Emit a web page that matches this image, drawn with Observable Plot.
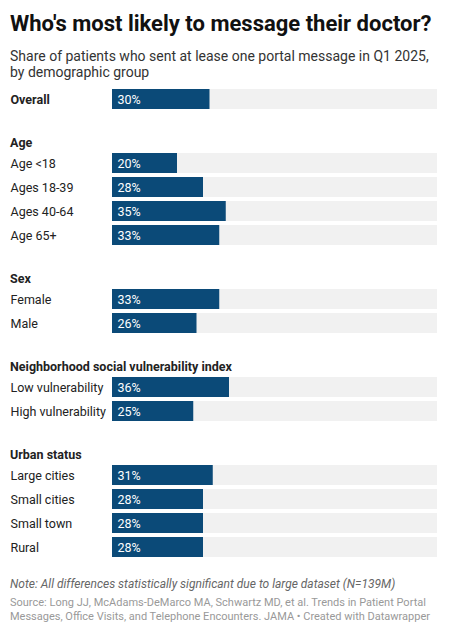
<!DOCTYPE html>
<html>
<head>
<meta charset="utf-8">
<script src="https://cdn.jsdelivr.net/npm/d3@7"></script>
<script src="https://cdn.jsdelivr.net/npm/@observablehq/plot@0.6"></script>
<style>
  html, body { margin: 0; padding: 0; background: #fff; }
  body { width: 450px; font-family: Roboto, "Noto Sans", sans-serif; }
  .title { margin: 11px 10px 0 10px; font-size: 22px; line-height: 25px; font-weight: 700; color: #111; }
  .subtitle { margin: 12px 10px 0 10px; font-size: 14px; line-height: 16px; color: #333; }
  .group-head { margin: 23px 10px 0 10px; font-size: 12.5px; line-height: 17px; height: 17px; font-weight: 700; color: #222; }
  #chart { margin-top: 7px; }
  #chart svg { display: block; }
  .note { margin: 18px 10px 0 10px; font-size: 12px; line-height: 14px; font-style: italic; color: #666; }
  .source { margin: 5px 10px 0 10px; font-size: 11px; line-height: 13.5px; color: #999; }
</style>
</head>
<body>
<div class="title">Who's most likely to message their doctor?</div>
<div class="subtitle">Share of patients who sent at lease one portal message in Q1 2025, by demographic group</div>
<div id="chart"></div>
<div class="note">Note: All differences statistically significant due to large dataset (N=139M)</div>
<div class="source">Source: Long JJ, McAdams-DeMarco MA, Schwartz MD, et al. Trends in Patient Portal Messages, Office Visits, and Telephone Encounters. JAMA • Created with Datawrapper</div>
<script>
const overallLabels = ["Overall"];
const overallValues = [30];

const groupTitles = ["Age", "Sex", "Neighborhood social vulnerability index", "Urban status"];

const ageLabels = ["Age <18", "Ages 18-39", "Ages 40-64", "Age 65+"];
const ageValues = [20, 28, 35, 33];

const sexLabels = ["Female", "Male"];
const sexValues = [33, 26];

const sviLabels = ["Low vulnerability", "High vulnerability"];
const sviValues = [36, 25];

const urbanLabels = ["Large cities", "Small cities", "Small town", "Rural"];
const urbanValues = [31, 28, 28, 28];

const groups = [
  {title: null, labels: overallLabels, values: overallValues, bold: true},
  {title: groupTitles[0], labels: ageLabels, values: ageValues},
  {title: groupTitles[1], labels: sexLabels, values: sexValues},
  {title: groupTitles[2], labels: sviLabels, values: sviValues},
  {title: groupTitles[3], labels: urbanLabels, values: urbanValues}
];

const container = document.getElementById("chart");
const step = 24;

for (const g of groups) {
  if (g.title) {
    const h = document.createElement("div");
    h.className = "group-head";
    h.textContent = g.title;
    container.appendChild(h);
  }
  const data = g.labels.map((label, i) => ({label, value: g.values[i]}));
  const chart = Plot.plot({
    width: 450,
    height: g.labels.length * step,
    marginTop: 0, marginBottom: 0, marginLeft: 0, marginRight: 0,
    style: {fontFamily: "Roboto, sans-serif", fontSize: "12px", background: "white"},
    x: {domain: [0, 100], range: [112, 437], axis: null},
    y: {domain: g.labels, paddingInner: 1/6, paddingOuter: 1/12, axis: null},
    marks: [
      Plot.barX(data, {y: "label", x: () => 100, fill: "#f1f1f1"}),
      Plot.barX(data, {y: "label", x: "value", fill: "#0b4a78"}),
      Plot.text(data, {y: "label", text: "label", frameAnchor: "left", dx: 10, textAnchor: "start",
        fill: "#222", fontWeight: g.bold ? 700 : 400, fontSize: 12.5}),
      Plot.text(data, {y: "label", x: 0, text: d => d.value + "%", dx: 5, textAnchor: "start",
        fill: "white", fontSize: 12.5})
    ]
  });
  container.appendChild(chart);
}
</script>
</body>
</html>
